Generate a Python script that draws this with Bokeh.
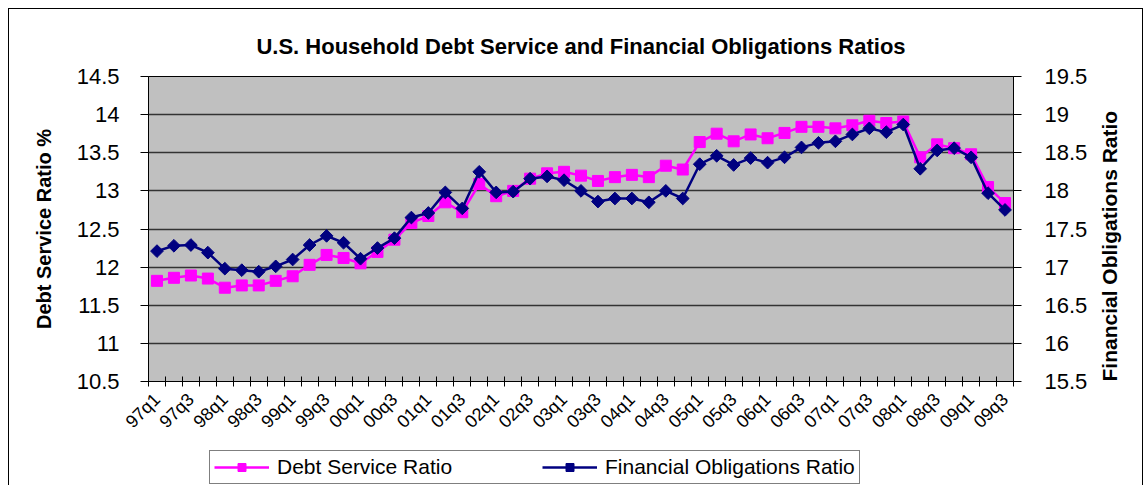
import math
from bokeh.plotting import figure
from bokeh.layouts import column
from bokeh.models import (Range1d, LinearAxis, FixedTicker, CustomJSTickFormatter,
                          Legend, LegendItem)
from bokeh.embed import file_html
from bokeh.resources import INLINE

quarters = ["97q1", "97q2", "97q3", "97q4", "98q1", "98q2", "98q3", "98q4",
            "99q1", "99q2", "99q3", "99q4", "00q1", "00q2", "00q3", "00q4",
            "01q1", "01q2", "01q3", "01q4", "02q1", "02q2", "02q3", "02q4",
            "03q1", "03q2", "03q3", "03q4", "04q1", "04q2", "04q3", "04q4",
            "05q1", "05q2", "05q3", "05q4", "06q1", "06q2", "06q3", "06q4",
            "07q1", "07q2", "07q3", "07q4", "08q1", "08q2", "08q3", "08q4",
            "09q1", "09q2", "09q3"]

debt_service = [11.82, 11.86, 11.89, 11.85, 11.73, 11.76, 11.76, 11.82,
                11.88, 12.03, 12.16, 12.12, 12.05, 12.20, 12.36, 12.58,
                12.67, 12.85, 12.72, 13.09, 12.93, 13.00, 13.16, 13.23,
                13.25, 13.20, 13.13, 13.18, 13.21, 13.18, 13.33, 13.28,
                13.64, 13.75, 13.65, 13.74, 13.69, 13.76, 13.84, 13.84,
                13.82, 13.86, 13.92, 13.89, 13.91, 13.44, 13.61, 13.56,
                13.48, 13.05, 12.84]

financial_obligations = [17.21, 17.28, 17.29, 17.19, 16.98, 16.96, 16.94, 17.01,
                         17.10, 17.29, 17.41, 17.32, 17.11, 17.25, 17.38, 17.65,
                         17.71, 17.98, 17.77, 18.25, 17.98, 17.99, 18.16, 18.19,
                         18.14, 18.00, 17.86, 17.90, 17.90, 17.85, 18.00, 17.90,
                         18.35, 18.46, 18.34, 18.43, 18.37, 18.44, 18.57, 18.63,
                         18.65, 18.74, 18.82, 18.77, 18.87, 18.29, 18.53, 18.56,
                         18.44, 17.97, 17.75]

left_ticks = [10.5, 11, 11.5, 12, 12.5, 13, 13.5, 14, 14.5]
right_ticks = [15.5, 16, 16.5, 17, 17.5, 18, 18.5, 19, 19.5]

FONT = "Liberation Sans"
PINK = "#FF00FF"
NAVY = "#000080"
n = len(quarters)
xs = list(range(n))

W = 1133
BL, BR = 139, 129  # left / right borders shared by both canvases

p = figure(width=W, height=441, output_backend="svg", toolbar_location=None,
           x_range=Range1d(-0.5, n - 0.5),
           y_range=Range1d(left_ticks[0], left_ticks[-1]),
           min_border_left=BL, min_border_right=BR, min_border_top=67,
           min_border_bottom=69,
           background_fill_color="#C0C0C0", border_fill_color="white",
           outline_line_color="black", outline_line_width=1)
p.extra_y_ranges = {"fo": Range1d(right_ticks[0], right_ticks[-1])}

# title
p.title.text = "U.S. Household Debt Service and Financial Obligations Ratios"
p.title.align = "center"
p.title.text_font = FONT
p.title.text_font_size = "22px"
p.title.text_font_style = "bold"
p.title.text_color = "black"
p.title.standoff = 36

# x axis
xa = p.xaxis[0]
xa.ticker = FixedTicker(ticks=[i for i in xs if i % 2 == 0],
                        minor_ticks=[i - 0.5 for i in range(n + 1)])
xa.formatter = CustomJSTickFormatter(args=dict(labels=quarters),
                                     code="return labels[Math.round(tick)] || '';")
xa.major_label_orientation = math.pi / 4
xa.major_tick_line_color = None
xa.major_tick_in = 0
xa.major_tick_out = 5
xa.minor_tick_in = 5
xa.minor_tick_out = 5
xa.minor_tick_line_color = "black"
xa.axis_line_color = "black"
xa.major_label_text_font = FONT
xa.major_label_text_font_size = "18px"
xa.major_label_text_color = "black"
xa.major_label_standoff = 10
p.xgrid.grid_line_color = None

# left axis
ya = p.yaxis[0]
ya.ticker = FixedTicker(ticks=left_ticks)
ya.formatter = CustomJSTickFormatter(code="return String(Math.round(tick*10)/10);")
ya.major_tick_in = 0
ya.major_tick_out = 8
ya.minor_tick_line_color = None
ya.major_tick_line_color = "black"
ya.axis_line_color = "black"
ya.major_label_text_font = FONT
ya.major_label_text_font_size = "22px"
ya.major_label_text_color = "black"
ya.major_label_standoff = 21
ya.axis_label = "Debt Service Ratio %"
ya.axis_label_text_font = FONT
ya.axis_label_text_font_size = "20px"
ya.axis_label_text_font_style = "bold"
ya.axis_label_text_color = "black"
ya.axis_label_standoff = 19
p.ygrid.ticker = FixedTicker(ticks=left_ticks)
p.ygrid.grid_line_color = "#333333"
p.ygrid.grid_line_width = 1.3

# right axis
ra = LinearAxis(y_range_name="fo", ticker=FixedTicker(ticks=right_ticks),
                formatter=CustomJSTickFormatter(code="return String(Math.round(tick*10)/10);"))
ra.major_tick_in = 0
ra.major_tick_out = 8
ra.minor_tick_line_color = None
ra.major_tick_line_color = "black"
ra.axis_line_color = "black"
ra.major_label_text_font = FONT
ra.major_label_text_font_size = "22px"
ra.major_label_text_color = "black"
ra.major_label_standoff = 23
ra.axis_label = "Financial Obligations Ratio"
ra.axis_label_text_font = FONT
ra.axis_label_text_font_size = "21px"
ra.axis_label_text_font_style = "bold"
ra.axis_label_text_color = "black"
ra.axis_label_standoff = 19
props = ra.properties()
if "axis_label_orientation" in props:
    ra.axis_label_orientation = math.pi / 2
    if "axis_label_align" in props:
        ra.axis_label_align = "start"
p.add_layout(ra, "right")

# series
p.line(xs, debt_service, line_color=PINK, line_width=2.5)
p.scatter(xs, debt_service, marker="square", size=11, fill_color=PINK, line_color=PINK)
p.line(xs, financial_obligations, y_range_name="fo", line_color=NAVY, line_width=2.5)
p.scatter(xs, financial_obligations, y_range_name="fo", marker="square",
          angle=math.pi / 4, size=9, fill_color=NAVY, line_color=NAVY)

# legend strip (separate canvas so the box is not clipped by the plot frame)
q = figure(width=W, height=35, output_backend="svg", toolbar_location=None,
           x_range=Range1d(-0.5, n - 0.5), y_range=Range1d(0, 1),
           x_axis_type=None, y_axis_type=None,
           min_border_left=BL, min_border_right=BR, min_border_top=0,
           min_border_bottom=0, outline_line_color=None,
           background_fill_color="white", border_fill_color="white")
q.xgrid.grid_line_color = None
q.ygrid.grid_line_color = None
r1 = q.line(xs, debt_service, line_color=PINK, line_width=2.5)
s1 = q.scatter(xs, debt_service, marker="square", size=11, fill_color=PINK, line_color=PINK)
r2 = q.line(xs, financial_obligations, line_color=NAVY, line_width=2.5)
s2 = q.scatter(xs, financial_obligations, marker="square", angle=math.pi / 4, size=9,
               fill_color=NAVY, line_color=NAVY)
legend = Legend(items=[LegendItem(label="Debt Service Ratio", renderers=[r1, s1]),
                       LegendItem(label="Financial Obligations Ratio", renderers=[r2, s2])],
                orientation="horizontal", location=(61, 1), margin=0,
                border_line_color="black", border_line_width=1,
                background_fill_color="white", background_fill_alpha=1,
                padding=4, spacing=45, glyph_width=55, glyph_height=20,
                label_width=220, label_height=20, label_standoff=8,
                label_text_font=FONT, label_text_font_size="21px",
                label_text_color="black")
q.add_layout(legend)

layout = column(p, q, spacing=0)
layout.margin = (8, 0, 0, 8)
layout.styles = {"border-left": "1px solid #000", "border-top": "1px solid #000",
                 "border-right": "1px solid #000"}

open("out.html", "w").write(file_html(layout, INLINE))
